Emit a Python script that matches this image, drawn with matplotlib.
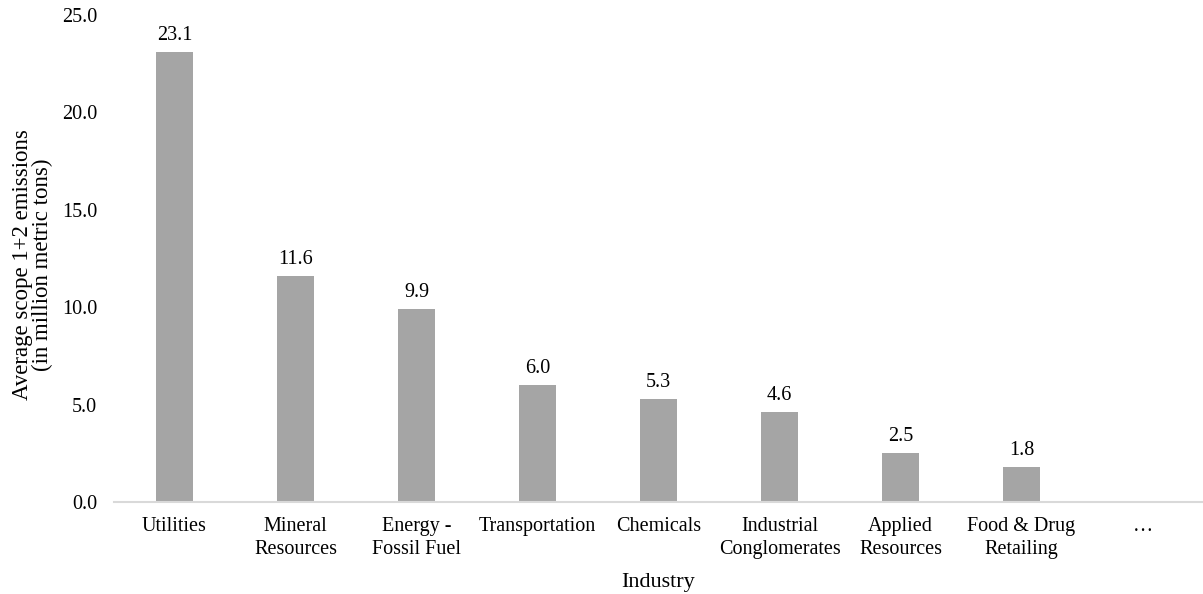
import numpy as np
import matplotlib.pyplot as plt

plt.rcParams['font.family'] = ['Liberation Serif', 'DejaVu Serif']

# industries and their average scope 1+2 emissions (million metric tons)
industries = ["Utilities", "Mineral\nResources", "Energy -\nFossil Fuel", "Transportation",
              "Chemicals", "Industrial\nConglomerates", "Applied\nResources",
              "Food & Drug\nRetailing", "\u2026"]
emissions = [23.1, 11.6, 9.9, 6.0, 5.3, 4.6, 2.5, 1.8, np.nan]
yticks = [0, 5, 10, 15, 20, 25]

FS = 14.5

fig = plt.figure(figsize=(12.03, 5.94), dpi=100)
ax = fig.add_axes([114/1203, 92/594, 1089/1203, 487/594])

x = np.arange(len(industries))
vals = np.array(emissions, dtype=float)
ax.bar(x, np.nan_to_num(vals), width=0.31, color="#A5A5A5")

for xi, v in zip(x, vals):
    if not np.isnan(v):
        ax.annotate(f"{v:.1f}", (xi, v), xytext=(0, 5), textcoords="offset points",
                    ha="center", va="bottom", fontsize=FS)

ax.set_xlim(-0.5, len(industries) - 0.5)
ax.set_ylim(0, 25)
ax.set_yticks(yticks)
ax.set_yticklabels([f"{t:.1f}" for t in yticks], fontsize=FS)
ax.set_xticks(x)
ax.set_xticklabels(industries, fontsize=FS, linespacing=1.3)
ax.tick_params(axis="both", length=0)
ax.tick_params(axis="x", pad=11)
ax.tick_params(axis="y", pad=12)

for s in ["top", "right", "left"]:
    ax.spines[s].set_visible(False)
ax.spines["bottom"].set_color("#D9D9D9")
ax.spines["bottom"].set_linewidth(1.5)

ax.set_xlabel("Industry", fontsize=16, labelpad=10)
ax.set_ylabel("Average scope 1+2 emissions\n(in million metric tons)", fontsize=16.5,
              linespacing=0.95)
ax.yaxis.set_label_coords(-0.056, 0.487)

fig.savefig("out.png", dpi=100)
